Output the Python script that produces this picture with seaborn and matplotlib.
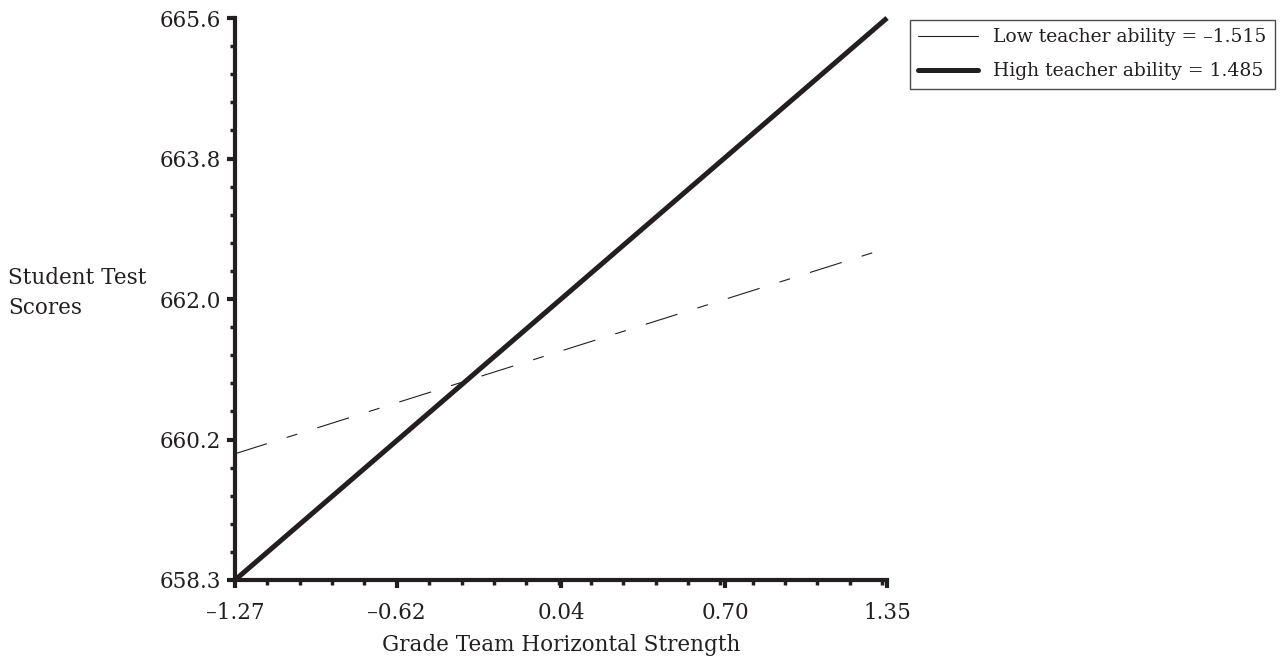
import numpy as np
import pandas as pd
import seaborn as sns
import matplotlib.pyplot as plt
from matplotlib.lines import Line2D
from matplotlib.ticker import AutoMinorLocator

# Data
x_vals = [-1.27, 1.35]
low_ability = [659.94, 662.61]
high_ability = [658.3, 665.6]
series_names = ["Low teacher ability = \u20131.515", "High teacher ability = 1.485"]
x_ticks = [-1.27, -0.62, 0.04, 0.70, 1.35]
x_tick_labels = ["\u20131.27", "\u20130.62", "0.04", "0.70", "1.35"]
y_ticks = list(np.linspace(658.3, 665.6, 5))
y_tick_labels = ["658.3", "660.2", "662.0", "663.8", "665.6"]

df = pd.DataFrame({
    "x": x_vals * 2,
    "score": low_ability + high_ability,
    "series": [series_names[0]] * 2 + [series_names[1]] * 2,
})

sns.set_style("ticks")
plt.rcParams["font.family"] = ["DejaVu Serif"]
plt.rcParams["lines.scale_dashes"] = False
ink = "#231f20"

fig = plt.figure(figsize=(12.88, 6.57), dpi=100)
ax = fig.add_axes([0.1825, 0.1172, 0.5062, 0.8554])

low = df[df.series == series_names[0]]
high = df[df.series == series_names[1]]
sns.lineplot(data=low, x="x", y="score", ax=ax, color=ink, linewidth=0.8,
             dashes=False, clip_on=False)
ax.lines[-1].set_dashes([24, 15, 8, 15])
sns.lineplot(data=high, x="x", y="score", ax=ax, color=ink, linewidth=3.6,
             clip_on=False, solid_capstyle="butt")

ax.set_xlim(-1.27, 1.35)
ax.set_ylim(658.3, 665.6)
ax.set_xticks(x_ticks)
ax.set_xticklabels(x_tick_labels, fontsize=15.5, color=ink)
ax.set_yticks(y_ticks)
ax.set_yticklabels(y_tick_labels, fontsize=15.5, color=ink)
ax.xaxis.set_minor_locator(AutoMinorLocator(5))
ax.yaxis.set_minor_locator(AutoMinorLocator(5))
ax.tick_params(which="both", bottom=True, left=True, direction="out", color=ink)
ax.tick_params(which="major", length=6, width=3)
ax.tick_params(axis="y", which="major", pad=4)
ax.tick_params(axis="x", which="major", pad=10)
ax.tick_params(which="minor", length=3.5, width=2.5)

sns.despine(ax=ax)
for s in ["left", "bottom"]:
    ax.spines[s].set_linewidth(3)
    ax.spines[s].set_color(ink)

ax.set_xlabel("Grade Team Horizontal Strength", fontsize=15.5, color=ink, labelpad=7)
ax.set_ylabel("")
fig.text(8 / 1288, 1 - 293 / 657, "Student Test\nScores", fontsize=15.5, color=ink,
         ha="left", va="center", linespacing=1.45)

handles = [Line2D([], [], color=ink, linewidth=0.8),
           Line2D([], [], color=ink, linewidth=3.6)]
leg = fig.legend(handles, series_names, loc="upper left",
                 bbox_to_anchor=(910 / 1288, 1 - 20 / 657), fontsize=13.5,
                 frameon=True, fancybox=False, edgecolor=ink, handlelength=3.2,
                 borderpad=0.45, labelspacing=0.85, handletextpad=0.8,
                 borderaxespad=0)
leg.get_frame().set_linewidth(1.0)
for t in leg.get_texts():
    t.set_color(ink)

fig.savefig("out.png", dpi=100)
